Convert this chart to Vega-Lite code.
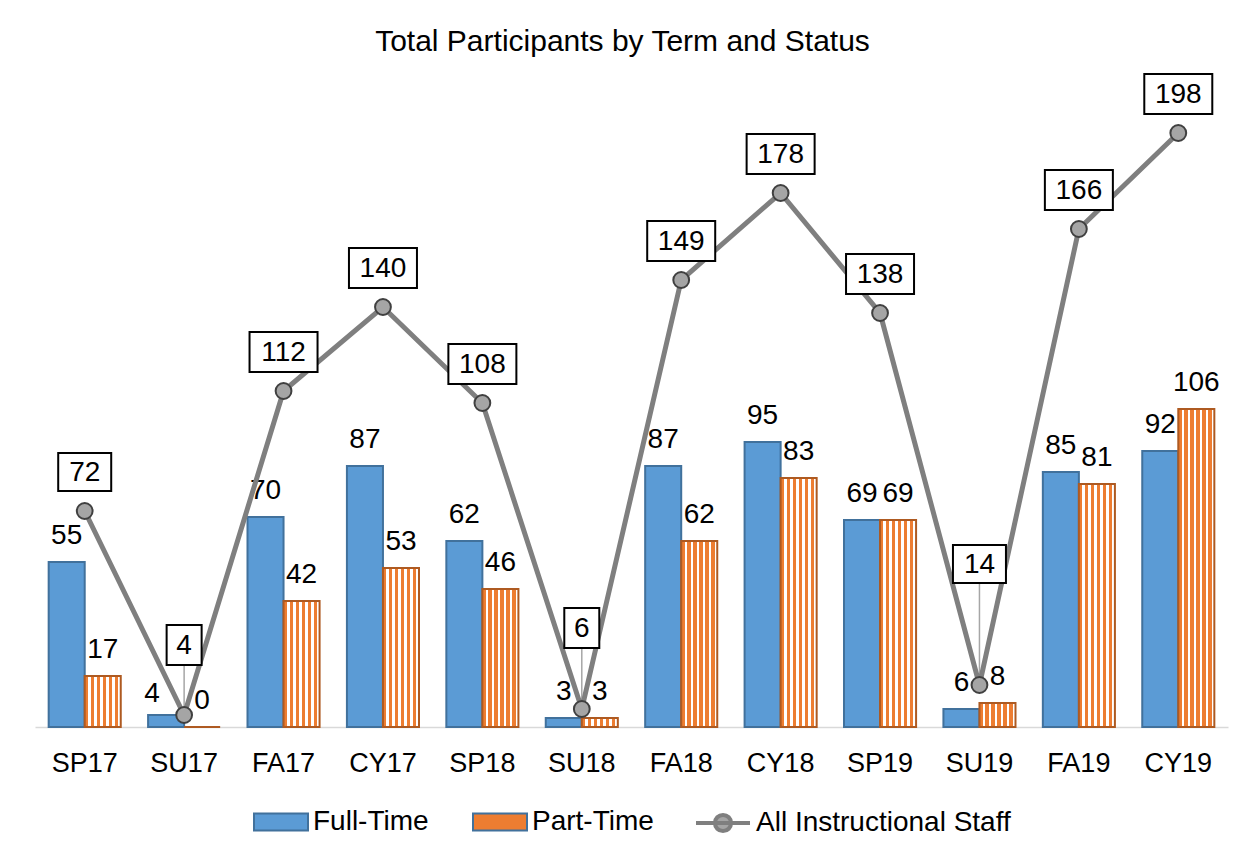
{
  "$schema": "https://vega.github.io/schema/vega-lite/v6.json",
  "width": 1193,
  "height": 600,
  "autosize": {"type": "none"},
  "padding": {"left": 35, "top": 127, "right": 22, "bottom": 129},
  "background": "white",
  "config": {"view": {"stroke": null}, "font": "Liberation Sans", "text": {"font": "Liberation Sans"}, "legend": {"layout": {"bottom": {"anchor": "middle", "margin": 40}}}},
  "title": {"text": "Total Participants by Term and Status", "font": "Liberation Sans", "fontSize": 30, "fontWeight": "normal", "color": "#000000", "anchor": "middle", "frame": "group", "baseline": "alphabetic", "offset": 0, "dy": 11, "dx": -9},
  "resolve": {"scale": {"color": "independent"}, "legend": {"color": "independent"}},
  "datasets": {
    "bars": [
      {"term": "SP17", "status": "Full-Time", "value": 55}, {"term": "SP17", "status": "Part-Time", "value": 17},
      {"term": "SU17", "status": "Full-Time", "value": 4}, {"term": "SU17", "status": "Part-Time", "value": 0},
      {"term": "FA17", "status": "Full-Time", "value": 70}, {"term": "FA17", "status": "Part-Time", "value": 42},
      {"term": "CY17", "status": "Full-Time", "value": 87}, {"term": "CY17", "status": "Part-Time", "value": 53},
      {"term": "SP18", "status": "Full-Time", "value": 62}, {"term": "SP18", "status": "Part-Time", "value": 46},
      {"term": "SU18", "status": "Full-Time", "value": 3}, {"term": "SU18", "status": "Part-Time", "value": 3},
      {"term": "FA18", "status": "Full-Time", "value": 87}, {"term": "FA18", "status": "Part-Time", "value": 62},
      {"term": "CY18", "status": "Full-Time", "value": 95}, {"term": "CY18", "status": "Part-Time", "value": 83},
      {"term": "SP19", "status": "Full-Time", "value": 69}, {"term": "SP19", "status": "Part-Time", "value": 69},
      {"term": "SU19", "status": "Full-Time", "value": 6}, {"term": "SU19", "status": "Part-Time", "value": 8},
      {"term": "FA19", "status": "Full-Time", "value": 85}, {"term": "FA19", "status": "Part-Time", "value": 81},
      {"term": "CY19", "status": "Full-Time", "value": 92}, {"term": "CY19", "status": "Part-Time", "value": 106}
    ],
    "totals": [
      {"term": "SP17", "total": 72}, {"term": "SU17", "total": 4}, {"term": "FA17", "total": 112},
      {"term": "CY17", "total": 140}, {"term": "SP18", "total": 108}, {"term": "SU18", "total": 6},
      {"term": "FA18", "total": 149}, {"term": "CY18", "total": 178}, {"term": "SP19", "total": 138},
      {"term": "SU19", "total": 14}, {"term": "FA19", "total": 166}, {"term": "CY19", "total": 198}
    ]
  },
  "encoding": {
    "x": {
      "field": "term", "type": "nominal",
      "sort": ["SP17", "SU17", "FA17", "CY17", "SP18", "SU18", "FA18", "CY18", "SP19", "SU19", "FA19", "CY19"],
      "scale": {"paddingInner": 0.275, "paddingOuter": 0.1375},
      "axis": {"title": null, "labelAngle": 0, "labelFont": "Liberation Sans", "labelFontSize": 27, "labelColor": "#000000", "labelBaseline": "alphabetic", "labelPadding": 44, "ticks": false, "tickSize": 0, "domain": true, "domainColor": "#D9D9D9", "domainWidth": 1.5, "grid": false}
    }
  },
  "layer": [
    {
      "data": {"name": "bars"},
      "mark": {"type": "bar", "strokeWidth": 2},
      "encoding": {
        "y": {"field": "value", "type": "quantitative", "scale": {"domain": [0, 200], "nice": false, "zero": true},
              "axis": {"title": null, "labels": false, "ticks": false, "domain": false, "grid": true, "gridColor": "#D9D9D9", "gridWidth": 1.5, "values": [0, 25, 50, 75, 100, 125, 150, 175, 200]}},
        "xOffset": {"field": "status", "type": "nominal", "sort": ["Full-Time", "Part-Time"], "scale": {"domain": ["Full-Time", "Part-Time"], "paddingInner": 0, "paddingOuter": 0}},
        "color": {
          "field": "status", "type": "nominal",
          "scale": {"domain": ["Full-Time", "Part-Time"], "range": ["#5B9BD5", "#ED7D31"]},
          "condition": {"test": "datum.status === 'Part-Time'", "value": {"gradient": "linear", "x1": 0, "y1": 0, "x2": 1, "y2": 0, "stops": [
            {"offset": 0, "color": "#ED7D31"}, {"offset": 0.0917, "color": "#ED7D31"}, {"offset": 0.0917, "color": "#FFFFFF"}, {"offset": 0.1667, "color": "#FFFFFF"},
            {"offset": 0.1667, "color": "#ED7D31"}, {"offset": 0.2583, "color": "#ED7D31"}, {"offset": 0.2583, "color": "#FFFFFF"}, {"offset": 0.3333, "color": "#FFFFFF"},
            {"offset": 0.3333, "color": "#ED7D31"}, {"offset": 0.425, "color": "#ED7D31"}, {"offset": 0.425, "color": "#FFFFFF"}, {"offset": 0.5, "color": "#FFFFFF"},
            {"offset": 0.5, "color": "#ED7D31"}, {"offset": 0.5917, "color": "#ED7D31"}, {"offset": 0.5917, "color": "#FFFFFF"}, {"offset": 0.6667, "color": "#FFFFFF"},
            {"offset": 0.6667, "color": "#ED7D31"}, {"offset": 0.7583, "color": "#ED7D31"}, {"offset": 0.7583, "color": "#FFFFFF"}, {"offset": 0.8333, "color": "#FFFFFF"},
            {"offset": 0.8333, "color": "#ED7D31"}, {"offset": 0.925, "color": "#ED7D31"}, {"offset": 0.925, "color": "#FFFFFF"}, {"offset": 1, "color": "#FFFFFF"}
          ]}},
          "legend": {
            "title": null, "orient": "bottom", "direction": "horizontal", "offset": 18,
            "symbolType": "M-1,-0.315H1V0.315H-1Z", "symbolSize": 2916, "symbolStrokeWidth": 2, "symbolOpacity": 1,
            "labelFont": "Liberation Sans", "labelFontSize": 28, "labelColor": "#000000",
            "labelOffset": 4, "columnPadding": 40, "labelLimit": 0
          }
        },
        "stroke": {"condition": {"test": "datum.status === 'Part-Time'", "value": "#AE5A21"}, "value": "#41719C"}
      }
    },
    {
      "data": {"name": "bars"},
      "transform": [{"filter": "!(datum.term === 'SU17' && datum.status === 'Full-Time')"}],
      "mark": {"type": "text", "font": "Liberation Sans", "fontSize": 28, "color": "#000000", "baseline": "alphabetic", "dy": -18},
      "encoding": {
        "y": {"field": "value", "type": "quantitative", "axis": null},
        "xOffset": {"field": "status", "type": "nominal", "sort": ["Full-Time", "Part-Time"]},
        "text": {"field": "value", "type": "quantitative"}
      }
    },
    {
      "data": {"name": "bars"},
      "transform": [{"filter": "datum.term === 'SU17' && datum.status === 'Full-Time'"}],
      "mark": {"type": "text", "font": "Liberation Sans", "fontSize": 28, "color": "#000000", "baseline": "alphabetic", "dy": -13, "dx": -14},
      "encoding": {
        "y": {"field": "value", "type": "quantitative", "axis": null},
        "xOffset": {"field": "status", "type": "nominal", "sort": ["Full-Time", "Part-Time"]},
        "text": {"field": "value", "type": "quantitative"}
      }
    },
    {
      "data": {"name": "totals"},
      "transform": [{"filter": "datum.term === 'SU17'"}],
      "mark": {"type": "rule", "color": "#A6A6A6", "strokeWidth": 1.5, "y2Offset": -49},
      "encoding": {"y": {"field": "total", "type": "quantitative", "axis": null}, "y2": {"field": "total"}}
    },
    {
      "data": {"name": "totals"},
      "transform": [{"filter": "datum.term === 'SU18'"}],
      "mark": {"type": "rule", "color": "#A6A6A6", "strokeWidth": 1.5, "y2Offset": -60},
      "encoding": {"y": {"field": "total", "type": "quantitative", "axis": null}, "y2": {"field": "total"}}
    },
    {
      "data": {"name": "totals"},
      "transform": [{"filter": "datum.term === 'SU19'"}],
      "mark": {"type": "rule", "color": "#A6A6A6", "strokeWidth": 1.5, "y2Offset": -104},
      "encoding": {"y": {"field": "total", "type": "quantitative", "axis": null}, "y2": {"field": "total"}}
    },
    {
      "data": {"name": "totals"},
      "mark": {"type": "line", "strokeWidth": 5},
      "encoding": {
        "y": {"field": "total", "type": "quantitative", "axis": null},
        "color": {"datum": "All Instructional Staff", "scale": {"domain": ["All Instructional Staff"], "range": ["#7F7F7F"]},
          "legend": {
            "title": null, "orient": "bottom", "direction": "horizontal", "offset": 18,
            "symbolType": "M-1,0H1M0.3,0A0.3,0.3,0,1,1,-0.3,0A0.3,0.3,0,1,1,0.3,0Z", "symbolSize": 2916, "symbolStrokeWidth": 4, "symbolFillColor": "#A5A5A5", "symbolOpacity": 1,
            "labelFont": "Liberation Sans", "labelFontSize": 28, "labelColor": "#000000",
            "labelOffset": 4, "labelLimit": 0
          }
        }
      }
    },
    {
      "data": {"name": "totals"},
      "mark": {"type": "circle", "size": 250, "fill": "#A5A5A5", "stroke": "#404040", "strokeWidth": 2, "opacity": 1},
      "encoding": {"y": {"field": "total", "type": "quantitative", "axis": null}}
    },
    {
      "data": {"name": "totals"},
      "transform": [{"filter": "datum.total >= 100"}],
      "mark": {"type": "point", "shape": "M-1,-0.588H1V0.588H-1Z", "size": 4624, "filled": true, "fill": "#FFFFFF", "stroke": "#000000", "strokeWidth": 2, "opacity": 1, "yOffset": -39},
      "encoding": {"y": {"field": "total", "type": "quantitative", "axis": null}}
    },
    {
      "data": {"name": "totals"},
      "transform": [{"filter": "datum.term === 'SP17'"}],
      "mark": {"type": "point", "shape": "M-1,-0.717H1V0.717H-1Z", "size": 2809, "filled": true, "fill": "#FFFFFF", "stroke": "#000000", "strokeWidth": 2, "opacity": 1, "yOffset": -39},
      "encoding": {"y": {"field": "total", "type": "quantitative", "axis": null}}
    },
    {
      "data": {"name": "totals"},
      "transform": [{"filter": "datum.term === 'SU19'"}],
      "mark": {"type": "point", "shape": "M-1,-0.717H1V0.717H-1Z", "size": 2809, "filled": true, "fill": "#FFFFFF", "stroke": "#000000", "strokeWidth": 2, "opacity": 1, "yOffset": -121},
      "encoding": {"y": {"field": "total", "type": "quantitative", "axis": null}}
    },
    {
      "data": {"name": "totals"},
      "transform": [{"filter": "datum.term === 'SU17'"}],
      "mark": {"type": "point", "shape": "M-1,-1.143H1V1.143H-1Z", "size": 1225, "filled": true, "fill": "#FFFFFF", "stroke": "#000000", "strokeWidth": 2, "opacity": 1, "yOffset": -70},
      "encoding": {"y": {"field": "total", "type": "quantitative", "axis": null}}
    },
    {
      "data": {"name": "totals"},
      "transform": [{"filter": "datum.term === 'SU18'"}],
      "mark": {"type": "point", "shape": "M-1,-1.143H1V1.143H-1Z", "size": 1225, "filled": true, "fill": "#FFFFFF", "stroke": "#000000", "strokeWidth": 2, "opacity": 1, "yOffset": -81},
      "encoding": {"y": {"field": "total", "type": "quantitative", "axis": null}}
    },
    {
      "data": {"name": "totals"},
      "transform": [{"filter": "datum.term !== 'SU17' && datum.term !== 'SU18' && datum.term !== 'SU19'"}],
      "mark": {"type": "text", "font": "Liberation Sans", "fontSize": 28, "color": "#000000", "baseline": "middle", "yOffset": -38},
      "encoding": {"y": {"field": "total", "type": "quantitative", "axis": null}, "text": {"field": "total", "type": "quantitative"}}
    },
    {
      "data": {"name": "totals"},
      "transform": [{"filter": "datum.term === 'SU17'"}],
      "mark": {"type": "text", "font": "Liberation Sans", "fontSize": 28, "color": "#000000", "baseline": "middle", "yOffset": -69},
      "encoding": {"y": {"field": "total", "type": "quantitative", "axis": null}, "text": {"field": "total", "type": "quantitative"}}
    },
    {
      "data": {"name": "totals"},
      "transform": [{"filter": "datum.term === 'SU18'"}],
      "mark": {"type": "text", "font": "Liberation Sans", "fontSize": 28, "color": "#000000", "baseline": "middle", "yOffset": -80},
      "encoding": {"y": {"field": "total", "type": "quantitative", "axis": null}, "text": {"field": "total", "type": "quantitative"}}
    },
    {
      "data": {"name": "totals"},
      "transform": [{"filter": "datum.term === 'SU19'"}],
      "mark": {"type": "text", "font": "Liberation Sans", "fontSize": 28, "color": "#000000", "baseline": "middle", "yOffset": -120},
      "encoding": {"y": {"field": "total", "type": "quantitative", "axis": null}, "text": {"field": "total", "type": "quantitative"}}
    }
  ]
}
